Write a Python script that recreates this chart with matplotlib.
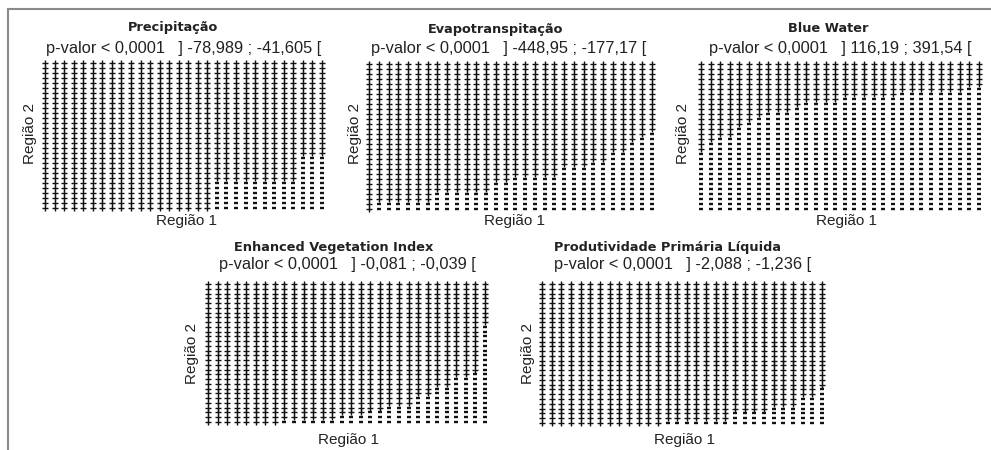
import numpy as np
import matplotlib
matplotlib.use("Agg")
import matplotlib.pyplot as plt
from matplotlib.lines import Line2D

# ---------------- data ----------------
titles = ["Precipitação", "Evapotranspitação", "Blue Water",
          "Enhanced Vegetation Index", "Produtividade Primária Líquida"]
subtitles = ["p-valor < 0,0001   ] -78,989 ; -41,605 [",
             "p-valor < 0,0001   ] -448,95 ; -177,17 [",
             "p-valor < 0,0001   ] 116,19 ; 391,54 [",
             "p-valor < 0,0001   ] -0,081 ; -0,039 [",
             "p-valor < 0,0001   ] -2,088 ; -1,236 ["]
n_rows = 30
# number of "+" signs (from the top) in each of the 30 columns; the rest are "-"
plus_precip = [30]*18 + [24]*9 + [19]*3
plus_et = [30] + [28]*6 + [26]*6 + [24]*2 + [23]*5 + [21]*3 + [20]*2 + [18]*2 + [16, 15, 14]
plus_blue = [18, 16, 15, 15, 13, 12, 11, 10, 10, 10, 9, 8, 8, 8, 8,
             7, 7, 7, 7, 7, 7, 6, 6, 6, 6, 6, 6, 6, 5, 5]
plus_evi = [30]*8 + [29]*6 + [28]*3 + [27]*2 + [26]*3 + [24]*2 + [22]*2 + [20]*2 + [19, 9]
plus_npp = [30]*13 + [29]*7 + [27]*4 + [26]*3 + [24]*2 + [22]
plus_counts = [plus_precip, plus_et, plus_blue, plus_evi, plus_npp]

# ---------------- layout (pixels) ----------------
W, H = 991, 450
panels = [
    dict(gx=(45, 322), gy=(63, 208), title=(173, 28), sub=(184, 48), xl=(187, 221), yl=(30, 134)),
    dict(gx=(369, 652), gy=(64, 209), title=(496, 29), sub=(509, 48), xl=(515, 221), yl=(355, 134)),
    dict(gx=(701, 979), gy=(64, 209), title=(828, 29), sub=(840, 48), xl=(847, 221), yl=(683, 134)),
    dict(gx=(208, 485), gy=(284, 422), title=(334, 248), sub=(347, 264), xl=(348, 440), yl=(192, 353)),
    dict(gx=(542, 822), gy=(284, 423), title=(668, 248), sub=(683, 264), xl=(684, 440), yl=(528, 353)),
]

fig = plt.figure(figsize=(W/100, H/100), dpi=100)
fig.patch.set_facecolor("white")

def fx(x):
    return x / W

def fy(y):
    return 1 - y / H

txt_font = ["Liberation Sans", "DejaVu Sans"]
ink = "#111111"

for i, p in enumerate(panels):
    x0, x1 = p["gx"]
    y0, y1 = p["gy"]
    ax = fig.add_axes([fx(x0), fy(y1), (x1 - x0) / W, (y1 - y0) / H])
    ax.set_xlim(0, 29)
    ax.set_ylim(n_rows - 1, 0)
    ax.axis("off")
    counts = plus_counts[i]
    px, py, mx, my = [], [], [], []
    for c, n in enumerate(counts):
        for r in range(n_rows):
            if r < n:
                px.append(c); py.append(r)
            else:
                mx.append(c); my.append(r)
    ax.plot(px, py, linestyle="none", marker="+", markersize=4.4,
            markeredgewidth=1.0, color=ink, clip_on=False)
    ax.plot(mx, my, linestyle="none", marker="_", markersize=3.2,
            markeredgewidth=1.7, color=ink, clip_on=False)

    fig.text(fx(p["title"][0]), fy(p["title"][1]), titles[i], ha="center", va="center",
             fontsize=9.3, fontweight="bold", family=["DejaVu Sans"], color="#222222")
    fig.text(fx(p["sub"][0]), fy(p["sub"][1]), subtitles[i], ha="center", va="center",
             fontsize=11.8, family=txt_font, color="#222222")
    fig.text(fx(p["xl"][0]), fy(p["xl"][1]), "Região 1", ha="center", va="center",
             fontsize=11, family=txt_font, color="#222222")
    fig.text(fx(p["yl"][0]), fy(p["yl"][1]), "Região 2", ha="center", va="center",
             rotation=90, fontsize=11, family=txt_font, color="#222222")

# frame lines (top and left)
fig.add_artist(Line2D([fx(8), fx(991)], [fy(9), fy(9)], color="#8a8a8a", linewidth=1.5))
fig.add_artist(Line2D([fx(8), fx(8)], [fy(9), fy(450)], color="#8a8a8a", linewidth=1.5))

fig.savefig("out.png", dpi=100, facecolor="white")
